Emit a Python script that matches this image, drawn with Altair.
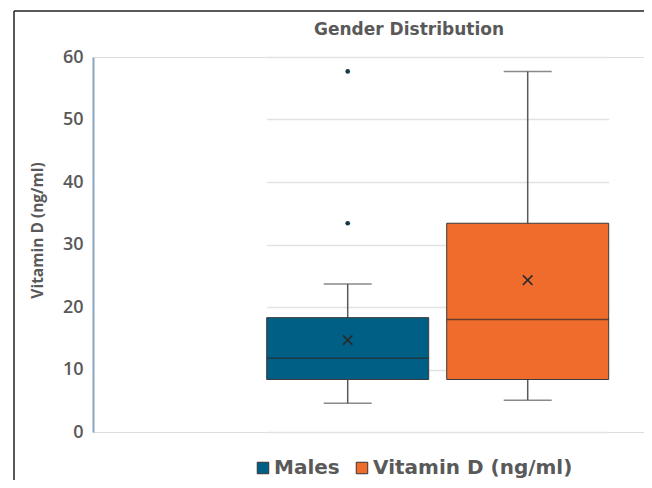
import altair as alt
import pandas as pd

series = ["Males", "Vitamin D (ng/ml)"]
mins = [4.6, 5.1]
q1s = [8.4, 8.4]
medians = [11.8, 18.0]
means = [14.7, 24.3]
q3s = [18.3, 33.4]
maxs = [23.7, 57.7]
outlier_series = ["Males", "Males"]
outlier_values = [33.4, 57.7]
colors = ["#005f84", "#f06c2c"]
y_ticks = [0, 10, 20, 30, 40, 50, 60]
chart_title = "Gender Distribution"
y_title = "Vitamin D (ng/ml)"

stats = pd.DataFrame({"series": series, "min": mins, "q1": q1s, "median": medians,
                      "mean": means, "q3": q3s, "max": maxs})
outliers = pd.DataFrame({"series": outlier_series, "value": outlier_values})

FONT = "Open Sans"
WIDE = "DejaVu Sans"
GREY = "#595959"

xscale = alt.Scale(domain=series, range=[173.7, 515.7], paddingInner=0.1, paddingOuter=0)
yscale = alt.Scale(domain=[0, 60])
X = alt.X("series:N", scale=xscale, axis=None)

base = alt.Chart(stats)

whisker = base.mark_rule(color=GREY, strokeWidth=1.5).encode(
    x=X,
    y=alt.Y("min:Q", scale=yscale, title=y_title,
            axis=alt.Axis(values=y_ticks, grid=True, gridColor="#e2e2e2", gridWidth=1.5,
                          domainColor="#8aa5bf", domainWidth=2, ticks=False,
                          labelFont=FONT, labelFontSize=18, labelFontWeight=600,
                          labelColor=GREY, labelPadding=10,
                          titleFont=FONT, titleFontSize=15.5, titleFontWeight="bold",
                          titleColor=GREY, titleAngle=270, titleX=-56, titleY=173,
                          titleAlign="center", titleBaseline="middle")),
    y2="max:Q",
)

box = base.mark_bar(stroke="#3a3a3a", strokeWidth=1).encode(
    x=X,
    y=alt.Y("q1:Q", scale=yscale),
    y2="q3:Q",
    color=alt.Color("series:N", scale=alt.Scale(domain=series, range=colors),
                    legend=alt.Legend(title=None, orient="none", legendX=160, legendY=401,
                                      direction="horizontal", symbolType="square",
                                      symbolSize=132, symbolStrokeColor="#333333",
                                      symbolStrokeWidth=1, symbolOpacity=1,
                                      labelFont=WIDE, labelFontSize=20, labelFontWeight="bold",
                                      labelColor=GREY, columnPadding=12, labelOffset=1,
                                      labelLimit=400)),
)

median = base.mark_tick(color="#2a2a2a", thickness=1.5, size=162).encode(
    x=X, y=alt.Y("median:Q", scale=yscale))

cap_lo = base.mark_tick(color=GREY, thickness=1.5, size=48).encode(
    x=X, y=alt.Y("min:Q", scale=yscale))
cap_hi = base.mark_tick(color=GREY, thickness=1.5, size=48).encode(
    x=X, y=alt.Y("max:Q", scale=yscale))

mean = base.mark_point(shape="M-1,-1L1,1M1,-1L-1,1", size=90, filled=False,
                       color="#2a2a2a", strokeWidth=1.5, opacity=1).encode(
    x=X, y=alt.Y("mean:Q", scale=yscale))

outl = alt.Chart(outliers).mark_circle(size=22, color="#15384b", opacity=1).encode(
    x=X, y=alt.Y("value:Q", scale=yscale))

one = pd.DataFrame({"label": [chart_title]})
title = alt.Chart(one).mark_text(font=WIDE, fontSize=17, fontWeight="bold", color=GREY,
                                 align="center", baseline="alphabetic").encode(
    text="label:N", x=alt.value(316), y=alt.value(-22))

frame_top = alt.Chart(one).mark_rule(color="#222222", strokeWidth=1.5).encode(
    x=alt.value(-79), x2=alt.value(551), y=alt.value(-46))
frame_left = alt.Chart(one).mark_rule(color="#222222", strokeWidth=1.5).encode(
    x=alt.value(-79), y=alt.value(-46), y2=alt.value(430))

chart = alt.layer(whisker, box, median, cap_lo, cap_hi, mean, outl, title,
                  frame_top, frame_left).properties(
    width=551, height=375,
    autosize=alt.AutoSizeParams(type="none"),
    padding={"left": 85, "top": 49, "right": 0, "bottom": 48},
).configure_view(strokeWidth=0).configure(background="white")

chart.save("out.html", embed_options={"renderer": "svg", "actions": False})
